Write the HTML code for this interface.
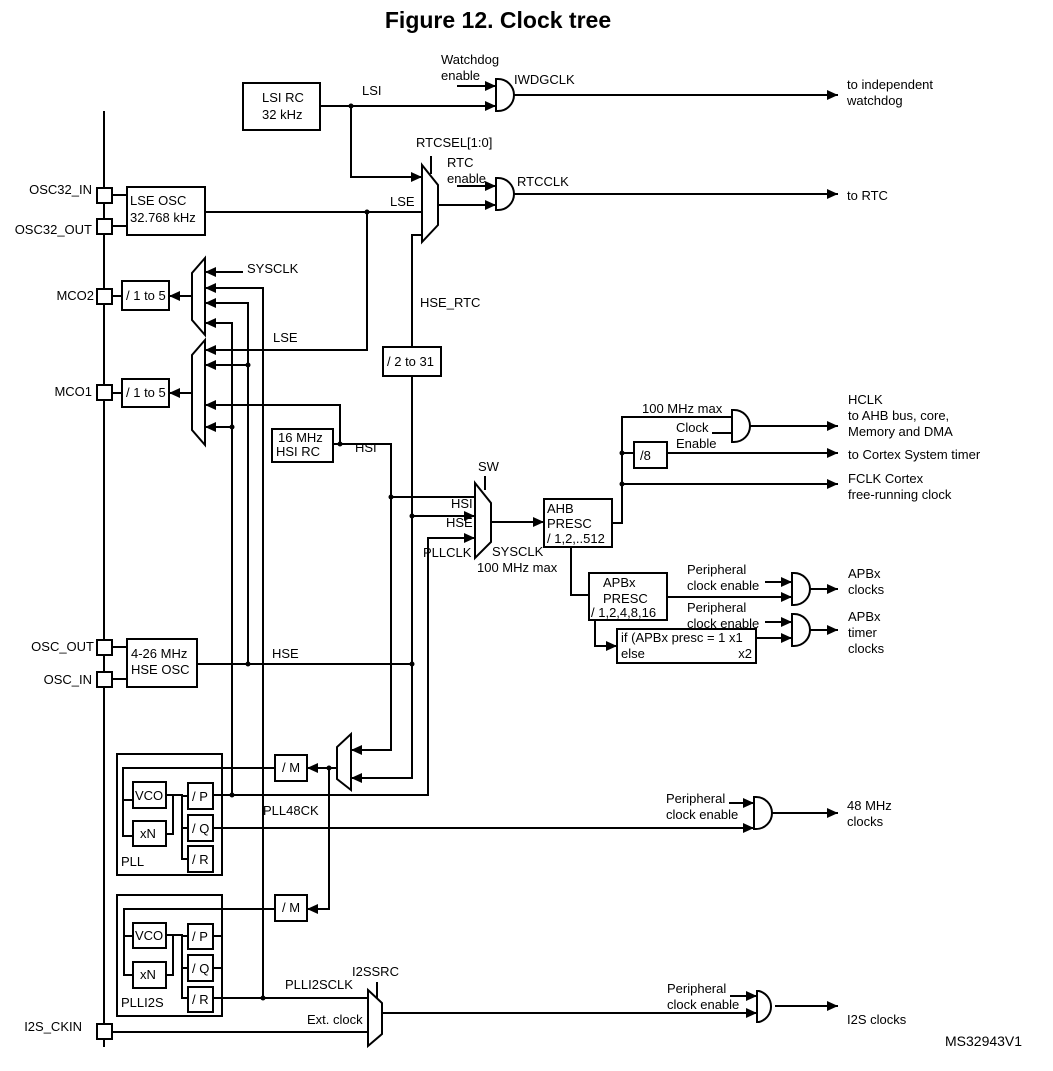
<!DOCTYPE html>
<html><head><meta charset="utf-8"><style>
html,body{margin:0;padding:0;background:#fff;}
svg{display:block;font-family:"Liberation Sans",Arial,sans-serif;font-size:13px;}
</style></head><body>
<svg width="1053" height="1071" viewBox="0 0 1053 1071" xmlns="http://www.w3.org/2000/svg">
<defs>
<marker id="a" markerUnits="userSpaceOnUse" markerWidth="12" markerHeight="10" refX="11" refY="5" orient="auto"><path d="M0,0 L11,5 L0,10 z" fill="#000"/></marker>
</defs>
<text x="498" y="28" font-size="23" font-weight="bold" text-anchor="middle">Figure 12. Clock tree</text>
<g stroke="#000" stroke-width="2" fill="none">
<line x1="104" y1="111" x2="104" y2="1047"/>
<!-- pads -->
<g fill="#fff">
<rect x="97" y="188" width="15" height="15"/><rect x="97" y="219" width="15" height="15"/>
<rect x="97" y="289" width="15" height="15"/><rect x="97" y="385" width="15" height="15"/>
<rect x="97" y="640" width="15" height="15"/><rect x="97" y="672" width="15" height="15"/>
<rect x="97" y="1024" width="15" height="15"/>
</g>
<path d="M112 195H127M112 226H127M112 296H122M112 393H122M112 647H127M112 679H127"/>
<!-- boxes -->
<rect x="127" y="187" width="78" height="48"/>
<rect x="243" y="83" width="77" height="47"/>
<rect x="122" y="281" width="47" height="29"/>
<rect x="122" y="379" width="47" height="28"/>
<rect x="272" y="429" width="61" height="33"/>
<rect x="127" y="639" width="70" height="48"/>
<rect x="383" y="347" width="58" height="29" fill="#fff"/>
<!-- LSI -->
<path d="M320 106H496" marker-end="url(#a)"/>
<path d="M351 106V177H422" marker-end="url(#a)"/>
<path d="M457 86H496" marker-end="url(#a)"/>
<path d="M496 79H498A16 16 0 0 1 498 111H496Z"/>
<path d="M514 95H838" marker-end="url(#a)"/>
<!-- RTC mux -->
<path d="M422 165L438 185V225L422 242Z"/>
<path d="M431 156V174"/>
<path d="M205 212H422"/>
<path d="M438 205H496" marker-end="url(#a)"/>
<path d="M457 186H496" marker-end="url(#a)"/>
<path d="M496 178H498A16 16 0 0 1 498 210H496Z"/>
<path d="M514 194H838" marker-end="url(#a)"/>
<path d="M422 235H412V347M412 376V778H351" marker-end="url(#a)"/>
<!-- MCO muxes -->
<path d="M205 258V335L192 320V273Z"/>
<path d="M205 340V445L192 430V355Z"/>
<path d="M192 296H169" marker-end="url(#a)"/>
<path d="M192 393H169" marker-end="url(#a)"/>
<path d="M243 272H205" marker-end="url(#a)"/>
<path d="M263 998V288H205" marker-end="url(#a)"/>
<path d="M248 664V303H205" marker-end="url(#a)"/>
<path d="M232 795V323H205" marker-end="url(#a)"/>
<path d="M367 212V350H205" marker-end="url(#a)"/>
<path d="M248 365H205" marker-end="url(#a)"/>
<path d="M340 444V405H205" marker-end="url(#a)"/>
<path d="M232 427H205" marker-end="url(#a)"/>
<!-- HSI -->
<path d="M333 444H391V750H351" marker-end="url(#a)"/>
<path d="M391 497H475"/>
<path d="M197 664H412"/>
<path d="M412 516H475" marker-end="url(#a)"/>
<path d="M213 795H428V538H475" marker-end="url(#a)"/>
<!-- SW mux -->
<path d="M475 483L491 503V542L475 558Z"/>
<path d="M485 476V490"/>
<path d="M491 522H544" marker-end="url(#a)"/>
<rect x="544" y="499" width="68" height="48"/>
<path d="M612 523H622V417H732"/>
<path d="M712 433H732"/>
<path d="M732 410H734A16 16 0 0 1 734 442H732Z"/>
<path d="M750 426H838" marker-end="url(#a)"/>
<rect x="634" y="442" width="33" height="26"/>
<path d="M622 453H634"/>
<path d="M667 453H838" marker-end="url(#a)"/>
<path d="M622 484H838" marker-end="url(#a)"/>
<!-- APB -->
<path d="M571 547V595H589"/>
<rect x="589" y="573" width="78" height="47"/>
<path d="M667 597H792" marker-end="url(#a)"/>
<path d="M765 582H792" marker-end="url(#a)"/>
<path d="M792 573H794A16 16 0 0 1 794 605H792Z"/>
<path d="M810 589H838" marker-end="url(#a)"/>
<path d="M595 620V646H617" marker-end="url(#a)"/>
<rect x="617" y="629" width="139" height="34"/>
<path d="M756 638H792" marker-end="url(#a)"/>
<path d="M765 622H792" marker-end="url(#a)"/>
<path d="M792 614H794A16 16 0 0 1 794 646H792Z"/>
<path d="M810 630H838" marker-end="url(#a)"/>
<!-- PLL mux -->
<path d="M351 734V790L337 779V747Z"/>
<path d="M337 768H307" marker-end="url(#a)"/>
<path d="M329 768V909H307" marker-end="url(#a)"/>
<rect x="275" y="755" width="32" height="26"/>
<rect x="275" y="895" width="32" height="26"/>
<!-- PLL -->
<rect x="117" y="754" width="105" height="121"/>
<path d="M275 768H123V836H133M123 800H133"/>
<rect x="133" y="782" width="33" height="26"/>
<rect x="133" y="821" width="33" height="25"/>
<path d="M166 834H173V795M166 795H182V859H188M182 796H188M182 828H188"/>
<rect x="188" y="783" width="25" height="26"/>
<rect x="188" y="815" width="25" height="26"/>
<rect x="188" y="846" width="25" height="26"/>
<path d="M213 828H754" marker-end="url(#a)"/>
<path d="M729 803H754" marker-end="url(#a)"/>
<path d="M754 797H756A16 16 0 0 1 756 829H754Z"/>
<path d="M772 813H838" marker-end="url(#a)"/>
<!-- PLLI2S -->
<rect x="117" y="895" width="105" height="121"/>
<path d="M275 909H124V975H133M124 936H133"/>
<rect x="133" y="923" width="33" height="25"/>
<rect x="133" y="962" width="33" height="26"/>
<path d="M166 975H173V935M166 935H182V998H188M182 936H188M182 968H188"/>
<rect x="188" y="924" width="25" height="25"/>
<rect x="188" y="955" width="25" height="26"/>
<rect x="188" y="987" width="25" height="25"/>
<path d="M213 936H222M213 968H222"/>
<path d="M213 998H368"/>
<path d="M368 990L382 1003V1034L368 1046Z"/>
<path d="M377 982V998"/>
<path d="M112 1032H368"/>
<path d="M382 1013H757" marker-end="url(#a)"/>
<path d="M730 996H757" marker-end="url(#a)"/>
<path d="M757 991H759A16 16 0 0 1 759 1022H757Z"/>
<path d="M775 1006H838" marker-end="url(#a)"/>
</g>
<g fill="#000">
<circle cx="351" cy="106" r="2.5"/><circle cx="367" cy="212" r="2.5"/>
<circle cx="248" cy="365" r="2.5"/><circle cx="232" cy="427" r="2.5"/>
<circle cx="340" cy="444" r="2.5"/><circle cx="391" cy="497" r="2.5"/>
<circle cx="412" cy="516" r="2.5"/><circle cx="248" cy="664" r="2.5"/>
<circle cx="412" cy="664" r="2.5"/><circle cx="232" cy="795" r="2.5"/>
<circle cx="329" cy="768" r="2.5"/><circle cx="263" cy="998" r="2.5"/>
<circle cx="622" cy="453" r="2.5"/><circle cx="622" cy="484" r="2.5"/>
</g>
<g>
<g text-anchor="end">
<text x="92" y="194">OSC32_IN</text><text x="92" y="234">OSC32_OUT</text>
<text x="94" y="300">MCO2</text><text x="92" y="396">MCO1</text>
<text x="94" y="651">OSC_OUT</text><text x="92" y="684">OSC_IN</text>
<text x="82" y="1031">I2S_CKIN</text>
</g>
<text x="130" y="205">LSE OSC</text><text x="130" y="222">32.768 kHz</text>
<text x="262" y="102">LSI RC</text><text x="262" y="119">32 kHz</text>
<text x="126" y="300">/ 1 to 5</text><text x="126" y="397">/ 1 to 5</text>
<text x="278" y="442">16 MHz</text><text x="276" y="456">HSI RC</text>
<text x="131" y="658">4-26 MHz</text><text x="131" y="674">HSE OSC</text>
<text x="387" y="366">/ 2 to 31</text>
<text x="362" y="95">LSI</text><text x="390" y="206">LSE</text>
<text x="416" y="147">RTCSEL[1:0]</text>
<text x="441" y="64">Watchdog</text><text x="441" y="80">enable</text>
<text x="514" y="84">IWDGCLK</text>
<text x="447" y="167">RTC</text><text x="447" y="183">enable</text>
<text x="517" y="186">RTCCLK</text>
<text x="847" y="89">to independent</text><text x="847" y="105">watchdog</text>
<text x="847" y="200">to RTC</text>
<text x="247" y="273">SYSCLK</text>
<text x="273" y="342">LSE</text>
<text x="420" y="307">HSE_RTC</text>
<text x="355" y="452">HSI</text>
<text x="272" y="658">HSE</text>
<text x="478" y="471">SW</text>
<text x="451" y="508">HSI</text><text x="446" y="527">HSE</text><text x="423" y="557">PLLCLK</text>
<text x="492" y="556">SYSCLK</text><text x="477" y="572">100 MHz max</text>
<text x="547" y="513">AHB</text><text x="547" y="528">PRESC</text><text x="547" y="543">/ 1,2,..512</text>
<text x="642" y="413">100 MHz max</text>
<text x="676" y="432">Clock</text><text x="676" y="448">Enable</text>
<text x="640" y="460">/8</text>
<text x="848" y="404">HCLK</text><text x="848" y="420">to AHB bus, core,</text><text x="848" y="436">Memory and DMA</text>
<text x="848" y="459">to Cortex  System timer</text>
<text x="848" y="483">FCLK Cortex</text><text x="848" y="499">free-running clock</text>
<text x="603" y="587">APBx</text><text x="603" y="603">PRESC</text><text x="591" y="617">/ 1,2,4,8,16</text>
<text x="687" y="574">Peripheral</text><text x="687" y="590">clock enable</text>
<text x="687" y="612">Peripheral</text><text x="687" y="628">clock enable</text>
<text x="621" y="642">if (APBx presc = 1  x1</text><text x="621" y="658">else</text><text x="752" y="658" text-anchor="end">x2</text>
<text x="848" y="578">APBx</text><text x="848" y="594">clocks</text>
<text x="848" y="621">APBx</text><text x="848" y="637">timer</text><text x="848" y="653">clocks</text>
<text x="282" y="772">/ M</text><text x="282" y="912">/ M</text>
<text x="135" y="800">VCO</text><text x="140" y="838">xN</text>
<text x="192" y="801">/ P</text><text x="192" y="833">/ Q</text><text x="192" y="864">/ R</text>
<text x="121" y="866">PLL</text>
<text x="263" y="815">PLL48CK</text>
<text x="666" y="803">Peripheral</text><text x="666" y="819">clock enable</text>
<text x="847" y="810">48 MHz</text><text x="847" y="826">clocks</text>
<text x="135" y="940">VCO</text><text x="140" y="979">xN</text>
<text x="192" y="941">/ P</text><text x="192" y="973">/ Q</text><text x="192" y="1004">/ R</text>
<text x="121" y="1007">PLLI2S</text>
<text x="285" y="989">PLLI2SCLK</text>
<text x="352" y="976">I2SSRC</text>
<text x="307" y="1024">Ext. clock</text>
<text x="667" y="993">Peripheral</text><text x="667" y="1009">clock enable</text>
<text x="847" y="1024">I2S clocks</text>
<text x="945" y="1046" font-size="14">MS32943V1</text>
</g>
</svg>
</body></html>
